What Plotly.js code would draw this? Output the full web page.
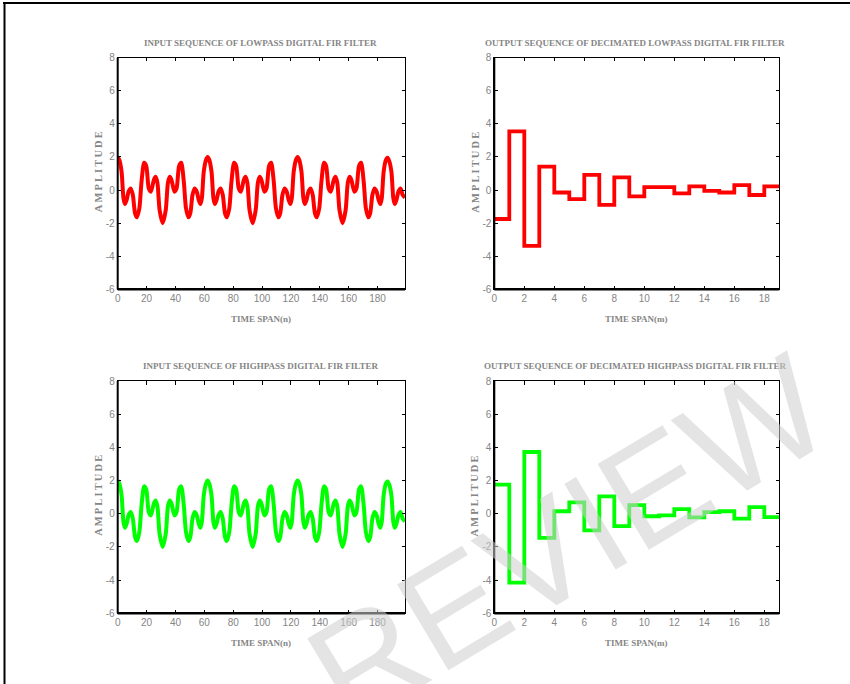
<!DOCTYPE html>
<html>
<head>
<meta charset="utf-8">
<script src="https://cdn.plot.ly/plotly-3.0.1.min.js"></script>
<style>html,body{margin:0;padding:0;background:#fff;}#chart{width:850px;height:684px;}</style>
</head>
<body>
<div id="chart"></div>
<script>
// ---- data ----
var inputN = [0, 1.2, 2.7, 4, 5, 6.2, 7.5, 9, 10.5, 12, 13.3, 15, 16.5, 18.3, 19.8, 21.5, 23, 25, 26.2, 27.5, 29, 31.15,
  33.3, 34.8, 36.1, 37.3, 39.3, 40.8, 42.5, 44, 45.8, 47.3, 49, 50.3, 51.8, 53.3, 54.8, 56.1, 57.3, 58.3, 59.6, 61.1,
  62.3, 63.5, 65, 66.3, 67.3, 68.5, 69.8, 71.3, 72.8, 74.3, 75.6, 77.3, 78.8, 80.6, 82.1, 83.8, 85.3, 87.3, 88.5, 89.8, 91.3, 93.45,
  95.6, 97.1, 98.4, 99.6, 101.6, 103.1, 104.8, 106.3, 108.1, 109.6, 111.3, 112.6, 114.1, 115.6, 117.1, 118.4, 119.6, 120.6, 121.9, 123.4,
  124.6, 125.8, 127.3, 128.6, 129.6, 130.8, 132.1, 133.6, 135.1, 136.6, 137.9, 139.6, 141.1, 142.9, 144.4, 146.1, 147.6, 149.6, 150.8, 152.1, 153.6, 155.75,
  157.9, 159.4, 160.7, 161.9, 163.9, 165.4, 167.1, 168.6, 170.4, 171.9, 173.6, 174.9, 176.4, 177.9, 179.4, 180.7, 181.9, 182.9, 184.2, 185.7,
  186.9, 188.1, 189.6, 190.9, 191.9, 193.1, 194.4, 195.9, 197.4, 199];
var inputAmp = [2.0, 1.8, 1.1, -0.5, -0.85, -0.6, -0.1, 0.1, -0.3, -1.4, -1.65, -1.1, 0.5, 1.65, 1.45, 0.1, -0.1, 0.6, 0.8, 0.45, -1.2, -2.0,
  -1.2, 0.45, 0.8, 0.6, -0.1, 0.1, 1.45, 1.65, 0.5, -1.1, -1.65, -1.4, -0.3, 0.1, -0.1, -0.6, -0.85, -0.5, 1.1, 1.8,
  2.0, 1.8, 1.1, -0.5, -0.85, -0.6, -0.1, 0.1, -0.3, -1.4, -1.65, -1.1, 0.5, 1.65, 1.45, 0.1, -0.1, 0.6, 0.8, 0.45, -1.2, -2.0,
  -1.2, 0.45, 0.8, 0.6, -0.1, 0.1, 1.45, 1.65, 0.5, -1.1, -1.65, -1.4, -0.3, 0.1, -0.1, -0.6, -0.85, -0.5, 1.1, 1.8,
  2.0, 1.8, 1.1, -0.5, -0.85, -0.6, -0.1, 0.1, -0.3, -1.4, -1.65, -1.1, 0.5, 1.65, 1.45, 0.1, -0.1, 0.6, 0.8, 0.45, -1.2, -2.0,
  -1.2, 0.45, 0.8, 0.6, -0.1, 0.1, 1.45, 1.65, 0.5, -1.1, -1.65, -1.4, -0.3, 0.1, -0.1, -0.6, -0.85, -0.5, 1.1, 1.8,
  1.95, 1.75, 1.1, -0.5, -0.85, -0.6, -0.1, 0.1, -0.3, -0.45];
var decM = [0,1,2,3,4,5,6,7,8,9,10,11,12,13,14,15,16,17,18,19];
var lowpassOut = [-1.75, 3.55, -3.38, 1.42, -0.15, -0.55, 0.92, -0.9, 0.76, -0.38, 0.18, 0.18, -0.2, 0.22, -0.05, -0.15, 0.3, -0.3, 0.22, 0.22];
var highpassOut = [1.75, -4.15, 3.72, -1.45, 0.15, 0.68, -1.0, 1.05, -0.75, 0.52, -0.15, -0.1, 0.28, -0.22, 0.1, 0.15, -0.3, 0.4, -0.2, -0.2];
var yTicks = [-6,-4,-2,0,2,4,6,8];
var nTicks = [0,20,40,60,80,100,120,140,160,180];
var mTicks = [0,2,4,6,8,10,12,14,16,18];
var titles = ["INPUT SEQUENCE OF LOWPASS DIGITAL FIR FILTER", "OUTPUT SEQUENCE OF DECIMATED LOWPASS DIGITAL FIR FILTER",
              "INPUT SEQUENCE OF HIGHPASS DIGITAL FIR FILTER", "OUTPUT SEQUENCE OF DECIMATED HIGHPASS DIGITAL FIR FILTER"];
var xTitles = ["TIME SPAN(n)", "TIME SPAN(m)", "TIME SPAN(n)", "TIME SPAN(m)"];
var yTitle = "A\u2009M\u2009P\u2009L\u2009I\u2009T\u2009U\u2009D\u2009E";

// ---- layout helpers ----
var W = 850, H = 684;
function px(x){ return x / W; }
function py(y){ return 1 - y / H; }
var GRAY = "#858585";
var tickFont = {family: "Liberation Sans Narrow, Arial Narrow, Liberation Sans, Arial, sans-serif", size: 10, color: GRAY};
var serifBold = "Liberation Serif, Times New Roman, serif";

var colL = [117.7, 405], colR = [494.3, 779.3];
var rowT = [57.7, 289.3], rowB = [381, 613.3];

function xAx(dom, range, ticks, anchor){
  return {domain: [px(dom[0]), px(dom[1])], range: range, tickvals: ticks, ticktext: ticks.map(String),
    ticks: "inside", ticklen: 3.5, tickwidth: 1, tickcolor: "#000", showline: true, linecolor: "#000", linewidth: 1,
    mirror: "ticks", showgrid: false, zeroline: false, tickfont: tickFont, anchor: anchor, fixedrange: true};
}
function yAx(dom, anchor){
  return {domain: [py(dom[1]), py(dom[0])], range: [-6, 8], tickvals: yTicks, ticktext: yTicks.map(String),
    ticks: "inside", ticklen: 3.5, tickwidth: 1, tickcolor: "#000", showline: true, linecolor: "#000", linewidth: 1,
    mirror: "ticks", showgrid: false, zeroline: false, tickfont: tickFont, anchor: anchor, fixedrange: true};
}

var traces = [
  {x: inputN, y: inputAmp, type: "scatter", mode: "lines", line: {color: "#ff0000", width: 4, shape: "spline", smoothing: 0.7}, xaxis: "x", yaxis: "y"},
  {x: decM, y: lowpassOut, type: "scatter", mode: "lines", line: {color: "#ff0000", width: 3.8, shape: "hv"}, xaxis: "x2", yaxis: "y2"},
  {x: inputN, y: inputAmp, type: "scatter", mode: "lines", line: {color: "#00ff00", width: 4, shape: "spline", smoothing: 0.7}, xaxis: "x3", yaxis: "y3"},
  {x: decM, y: highpassOut, type: "scatter", mode: "lines", line: {color: "#00ff00", width: 3.8, shape: "hv"}, xaxis: "x4", yaxis: "y4"}
];

var cols = [colL, colR, colL, colR];
var rows = [rowT, rowT, rowB, rowB];
var annotations = [];
for (var i = 0; i < 4; i++) {
  var c = cols[i], r = rows[i];
  var cx = (i % 2 === 0) ? 260.5 : 635;
  annotations.push({text: "<b>" + titles[i] + "</b>", xref: "paper", yref: "paper", x: px(cx), y: py(r[0] - 15),
    xanchor: "center", yanchor: "middle", showarrow: false, font: {family: serifBold, size: 9, color: GRAY}});
  annotations.push({text: "<b>" + xTitles[i] + "</b>", xref: "paper", yref: "paper", x: px((c[0] + c[1]) / 2), y: py(r[1] + 30),
    xanchor: "center", yanchor: "middle", showarrow: false, font: {family: serifBold, size: 9, color: GRAY}});
  annotations.push({text: "<b>" + yTitle + "</b>", xref: "paper", yref: "paper", x: px(c[0] - 19.5), y: py((r[0] + r[1]) / 2 - 1.5),
    xanchor: "center", yanchor: "middle", textangle: -90, showarrow: false, font: {family: serifBold, size: 10.5, color: GRAY}});
}
// watermark
annotations.push({text: "REVIEW", xref: "paper", yref: "paper", x: px(568), y: py(540), xanchor: "center", yanchor: "middle",
  textangle: -31, showarrow: false, font: {family: "Liberation Sans, Arial, sans-serif", size: 145, color: "rgba(205,205,205,0.55)"}});

var shapes = [
  {type: "line", xref: "paper", yref: "paper", x0: px(3), x1: px(850), y0: py(3), y1: py(3), line: {color: "#000", width: 2}},
  {type: "line", xref: "paper", yref: "paper", x0: px(4.5), x1: px(4.5), y0: py(3), y1: py(684), line: {color: "#000", width: 2}}
];
["", "2", "3", "4"].forEach(function(s){
  shapes.push({type: "line", xref: "x" + s + " domain", yref: "y" + s + " domain", x0: 0, x1: 0, y0: 0, y1: 1, line: {color: "#000", width: 2}});
  shapes.push({type: "line", xref: "x" + s + " domain", yref: "y" + s + " domain", x0: 0, x1: 1, y0: 0, y1: 0, line: {color: "#000", width: 2.5}});
});

var layout = {
  width: W, height: H, margin: {l: 0, r: 0, t: 0, b: 0}, showlegend: false,
  paper_bgcolor: "#fff", plot_bgcolor: "#fff",
  xaxis: xAx(colL, [0, 199], nTicks, "y"), yaxis: yAx(rowT, "x"),
  xaxis2: xAx(colR, [0, 19], mTicks, "y2"), yaxis2: yAx(rowT, "x2"),
  xaxis3: xAx(colL, [0, 199], nTicks, "y3"), yaxis3: yAx(rowB, "x3"),
  xaxis4: xAx(colR, [0, 19], mTicks, "y4"), yaxis4: yAx(rowB, "x4"),
  annotations: annotations, shapes: shapes
};
Plotly.newPlot("chart", traces, layout, {displayModeBar: false, staticPlot: true});
</script>
</body>
</html>
